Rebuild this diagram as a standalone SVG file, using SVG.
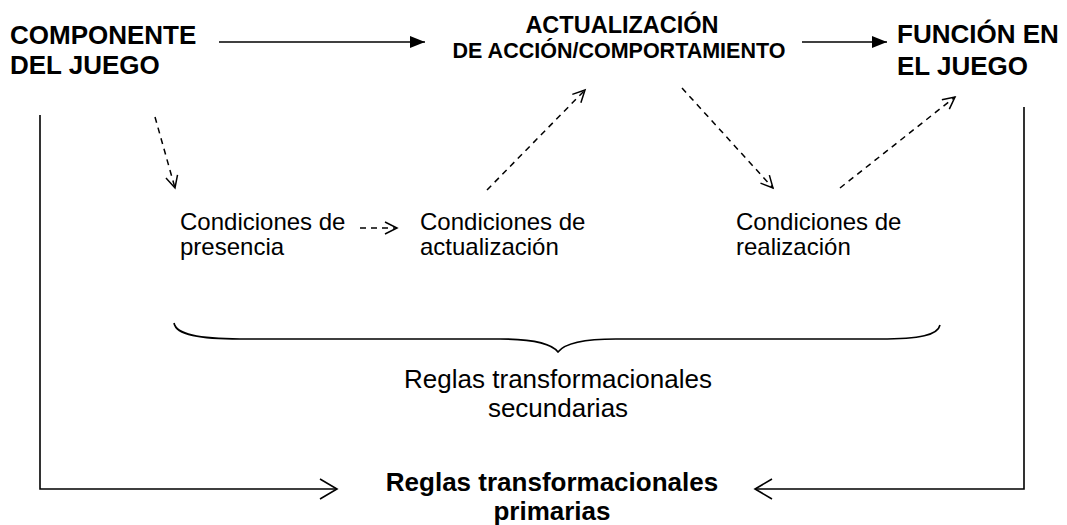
<svg xmlns="http://www.w3.org/2000/svg" width="1067" height="525" viewBox="0 0 1067 525">
<style>
.b{font-family:"Liberation Sans",Arial,sans-serif;font-weight:bold;fill:#000}
.r{font-family:"Liberation Sans",Arial,sans-serif;fill:#000}
.s{fill:none;stroke:#000;stroke-width:1.6}
.d{fill:none;stroke:#000;stroke-width:1.5;stroke-dasharray:6 5}
</style>
<defs>
<marker id="fill" markerUnits="userSpaceOnUse" markerWidth="16" markerHeight="14" refX="15" refY="6" orient="auto"><path d="M0,0 L15,6 L0,12 z" fill="#000"/></marker>
<marker id="vee" markerUnits="userSpaceOnUse" markerWidth="16" markerHeight="16" refX="13" refY="7" orient="auto"><path d="M1,1 L13,7 L1,13" fill="none" stroke="#000" stroke-width="1.5"/></marker>
<marker id="veeBig" markerUnits="userSpaceOnUse" markerWidth="20" markerHeight="24" refX="18" refY="11" orient="auto"><path d="M1,1 L18,11 L1,21" fill="none" stroke="#000" stroke-width="1.6"/></marker>
</defs>
<rect width="1067" height="525" fill="#fff"/>
<g id="componente"><text class="b" font-size="26" x="10" y="43.5">COMPONENTE</text><text class="b" font-size="26" x="10" y="74">DEL JUEGO</text></g>
<g id="actualizacion"><text class="b" font-size="23.5" x="622" y="33" text-anchor="middle">ACTUALIZACIÓN</text><text class="b" font-size="21.5" x="619" y="58" text-anchor="middle">DE ACCIÓN/COMPORTAMIENTO</text></g>
<g id="funcion"><text class="b" font-size="26" x="897" y="43">FUNCIÓN EN</text><text class="b" font-size="26" x="897" y="75">EL JUEGO</text></g>
<g id="presencia"><text class="r" font-size="24" x="180" y="230">Condiciones de</text><text class="r" font-size="24" x="180" y="255">presencia</text></g>
<g id="cond-actualizacion"><text class="r" font-size="24" x="420" y="230">Condiciones de</text><text class="r" font-size="24" x="420" y="255">actualización</text></g>
<g id="realizacion"><text class="r" font-size="24" x="736" y="230">Condiciones de</text><text class="r" font-size="24" x="736" y="255">realización</text></g>
<g id="secundarias"><path class="s" stroke-width="2" d="M174,323 C176,335 200,339 240,339 L500,339 C535,339 552,344 558,352 C564,344 581,339 616,339 L880,339 C920,339 938,335 940,325"/><text class="r" font-size="26" x="558" y="388" text-anchor="middle">Reglas transformacionales</text><text class="r" font-size="26" x="558" y="417" text-anchor="middle">secundarias</text></g>
<g id="primarias"><text class="b" font-size="26" x="552" y="491" text-anchor="middle">Reglas transformacionales</text><text class="b" font-size="26" x="552" y="520" text-anchor="middle">primarias</text></g>
<g id="connectors">
<line class="s" x1="219" y1="42" x2="425" y2="42" marker-end="url(#fill)"/>
<line class="s" x1="802" y1="42" x2="887" y2="42" marker-end="url(#fill)"/>
<line class="d" x1="155" y1="117" x2="175" y2="188" marker-end="url(#vee)"/>
<line class="d" x1="360" y1="228" x2="397" y2="228" marker-end="url(#vee)"/>
<line class="d" x1="487" y1="190" x2="585" y2="90" marker-end="url(#vee)"/>
<line class="d" x1="682" y1="88" x2="773" y2="188" marker-end="url(#vee)"/>
<line class="d" x1="840" y1="188" x2="955" y2="97" marker-end="url(#vee)"/>
<polyline class="s" points="40,115 40,489 337,489" marker-end="url(#veeBig)"/>
<polyline class="s" points="1024,107 1024,489 755,489" marker-end="url(#veeBig)"/>
</g>
</svg>
